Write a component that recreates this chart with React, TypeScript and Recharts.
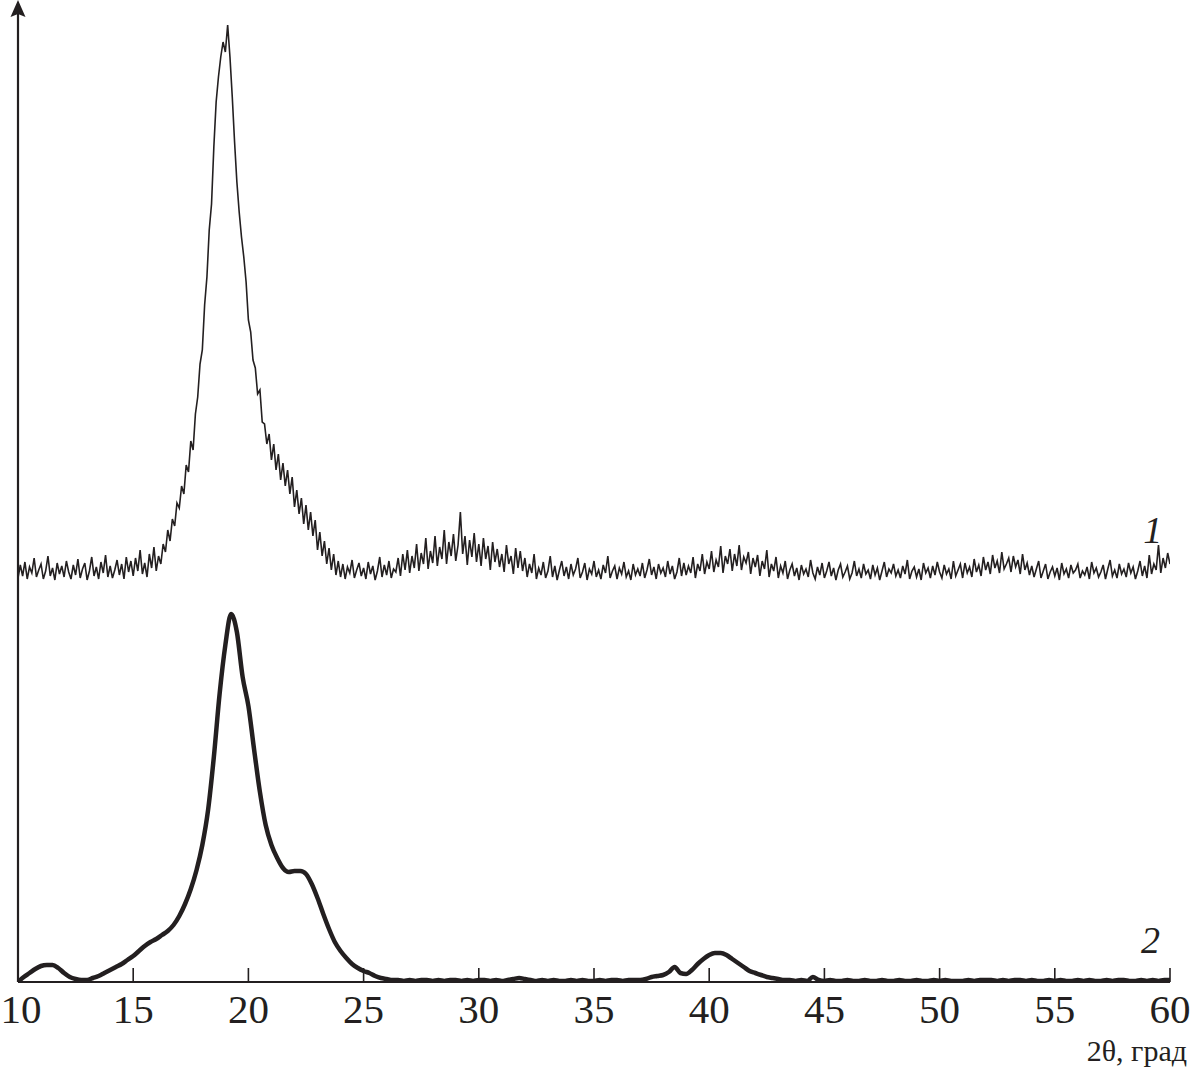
import React from 'react';
import { LineChart, Line, XAxis, YAxis, ReferenceDot, ReferenceLine } from 'recharts';

// diffraction angle grid (deg), one reading per step
const ANGLE_START = 10;
const STEP_1 = 0.1;
const STEP_2 = 0.25;
const xTicks = [10, 15, 20, 25, 30, 35, 40, 45, 50, 55, 60];

// curve 1 (noisy trace, shifted up), read every 0.1 deg
const curve1 = [
  404, 417, 406, 420, 403, 415, 409, 424, 405, 412, // 10
  418, 403, 411, 426, 406, 414, 402, 419, 408, 416, // 11
  405, 421, 410, 403, 417, 407, 423, 404, 413, 419, // 12
  402, 411, 425, 406, 415, 403, 420, 409, 427, 405, // 13
  416, 404, 412, 422, 407, 418, 403, 425, 410, 421, // 14
  406, 424, 411, 432, 408, 419, 405, 428, 414, 435, // 15
  411, 426, 418, 438, 430, 452, 441, 463, 456, 479, // 16
  474, 496, 488, 517, 510, 541, 532, 568, 585, 618, // 17
  632, 677, 705, 752, 778, 835, 880, 905, 925, 940, // 18
  930, 957, 925, 885, 840, 800, 770, 745, 725, 700, // 19
  662, 650, 622, 614, 588, 592, 560, 558, 538, 548, // 20
  522, 538, 512, 528, 502, 519, 496, 512, 488, 505, // 21
  475, 492, 468, 484, 458, 477, 452, 470, 446, 462, // 22
  432, 450, 426, 441, 418, 434, 412, 428, 407, 421, // 23
  405, 418, 403, 415, 409, 422, 404, 412, 419, 406, // 24
  414, 403, 420, 408, 416, 402, 411, 425, 405, 417, // 25
  407, 421, 404, 413, 410, 424, 406, 428, 412, 432, // 26
  409, 426, 414, 438, 411, 429, 418, 444, 413, 431, // 27
  419, 446, 416, 435, 423, 452, 418, 440, 426, 448, // 28
  421, 437, 470, 428, 446, 417, 442, 425, 449, 420, // 29
  438, 416, 444, 423, 436, 412, 440, 420, 433, 415, // 30
  428, 410, 437, 418, 426, 408, 434, 414, 431, 411, // 31
  424, 405, 418, 409, 428, 403, 414, 407, 420, 404, // 32
  411, 426, 405, 416, 402, 412, 421, 406, 415, 403, // 33
  418, 407, 413, 424, 404, 410, 419, 402, 413, 408, // 34
  421, 405, 412, 403, 417, 409, 426, 404, 411, 416, // 35
  403, 414, 408, 420, 405, 411, 402, 418, 407, 413, // 36
  406, 419, 404, 412, 423, 407, 415, 403, 418, 409, // 37
  414, 405, 421, 408, 416, 403, 410, 424, 406, 419, // 38
  407, 416, 409, 425, 404, 418, 411, 428, 408, 420, // 39
  413, 431, 410, 422, 415, 436, 409, 426, 418, 433, // 40
  411, 428, 416, 437, 412, 425, 419, 430, 408, 424, // 41
  415, 427, 406, 421, 413, 432, 405, 418, 411, 425, // 42
  404, 416, 409, 421, 403, 412, 418, 406, 414, 402, // 43
  417, 408, 413, 405, 422, 409, 403, 415, 407, 419, // 44
  404, 411, 420, 406, 414, 402, 412, 418, 405, 410, // 45
  416, 403, 409, 421, 406, 413, 404, 418, 408, 412, // 46
  403, 417, 407, 414, 402, 411, 420, 405, 413, 409, // 47
  418, 406, 412, 404, 416, 408, 422, 403, 411, 415, // 48
  405, 413, 402, 419, 409, 414, 404, 416, 407, 420, // 49
  410, 404, 417, 408, 413, 403, 421, 406, 412, 418, // 50
  404, 419, 409, 415, 405, 423, 410, 417, 406, 425, // 51
  412, 420, 408, 427, 414, 421, 409, 430, 413, 418, // 52
  424, 410, 426, 415, 422, 408, 428, 412, 419, 407, // 53
  416, 405, 413, 421, 404, 411, 418, 403, 410, 415, // 54
  406, 414, 402, 419, 408, 413, 404, 417, 409, 412, // 55
  418, 404, 411, 407, 415, 403, 420, 409, 414, 405, // 56
  410, 417, 403, 413, 422, 406, 412, 404, 418, 408, // 57
  413, 405, 419, 409, 415, 403, 411, 421, 406, 416, // 58
  404, 427, 408, 418, 412, 437, 409, 424, 414, 429, // 59
  418,
];

// curve 2 (smooth trace), read every 0.25 deg
const curve2 = [
  0, 5, 9, 13, // 10
  16, 17, 17, 14,
  9, 5, 3, 2,
  2, 4, 6, 9,
  12, 15, 18, 22,
  26, 31, 36, 40, // 15
  43, 47, 51, 57,
  66, 78, 93, 112,
  137, 172, 225, 288,
  337, 368, 350, 305,
  276, 232, 190, 157, // 20
  137, 124, 114, 110,
  111, 111, 108, 98,
  84, 68, 53, 40,
  31, 24, 18, 14,
  11, 9, 6, 4, // 25
  3, 2, 2, 1,
  2, 1, 2, 2,
  1, 2, 1, 2,
  2, 1, 2, 1,
  2, 2, 1, 2, // 30
  1, 2, 3, 4,
  3, 2, 1, 2,
  1, 2, 1, 1,
  2, 1, 2, 1,
  1, 2, 1, 2, // 35
  2, 1, 2, 2,
  2, 3, 5, 6,
  7, 10, 15, 9,
  8, 12, 18, 23,
  27, 29, 29, 27, // 40
  23, 19, 15, 11,
  9, 7, 5, 4,
  3, 2, 2, 1,
  2, 1, 5, 2,
  1, 2, 1, 1, // 45
  2, 1, 1, 2,
  1, 1, 2, 1,
  1, 2, 1, 1,
  2, 1, 1, 2,
  1, 2, 1, 1, // 50
  1, 2, 1, 2,
  2, 2, 1, 2,
  1, 2, 2, 1,
  2, 1, 1, 2,
  1, 2, 1, 1, // 55
  2, 1, 2, 1,
  1, 2, 1, 2,
  2, 1, 1, 2,
  1, 2, 1, 2,
  2, // 60
];

const series1 = curve1.map((v, i) => ({ x: +(ANGLE_START + i * STEP_1).toFixed(2), y: v }));
const series2 = curve2.map((v, i) => ({ x: +(ANGLE_START + i * STEP_2).toFixed(2), y: v }));

const INK = '#231f20';
const SERIF = '"Liberation Serif", "Times New Roman", serif';

const AngleTick = (props: any) => {
  const { x, y, payload } = props;
  // first label sits against the page edge
  const dx = payload.value === 10 ? 3 : 0;
  return (
    <g>
      <line x1={x} y1={y} x2={x} y2={y - 14} stroke={INK} strokeWidth={1.6} />
      <text x={x + dx} y={y + 41} textAnchor="middle" fontFamily={SERIF} fontSize={41} fill={INK}>
        {payload.value}
      </text>
    </g>
  );
};

const AxisTitle = (props: any) => {
  const { x, y, width } = props.viewBox;
  return (
    <text x={x + width + 17} y={y + 79} textAnchor="end" fontFamily={SERIF} fontSize={30} fill={INK}>
      2θ, град
    </text>
  );
};

const Arrow = (props: any) => {
  const { cx, cy } = props;
  return (
    <polygon
      points={`${cx},${cy - 5} ${cx - 7.5},${cy + 12} ${cx},${cy + 9} ${cx + 7.5},${cy + 12}`}
      fill={INK}
    />
  );
};

const curveLabel = (text: string) => (props: any) => (
  <text x={props.cx} y={props.cy} textAnchor="middle" fontFamily={SERIF} fontStyle="italic" fontSize={38} fill={INK}>
    {text}
  </text>
);

export default function App() {
  return (
    <div style={{ position: 'absolute', left: 0, top: 0, width: 1191, height: 1077, background: '#fff' }}>
      <LineChart width={1191} height={1077} margin={{ top: 5, right: 21, bottom: 0, left: 18 }}>
        <XAxis
          dataKey="x"
          type="number"
          domain={[10, 60]}
          ticks={xTicks}
          height={95}
          tickLine={false}
          tickSize={0}
          tickMargin={0}
          tick={<AngleTick />}
          axisLine={{ stroke: INK, strokeWidth: 2 }}
          label={<AxisTitle />}
          allowDataOverflow
        />
        <YAxis type="number" domain={[0, 977]} width={0} hide allowDataOverflow />
        <ReferenceLine x={10} stroke={INK} strokeWidth={2.2} ifOverflow="visible" />
        <Line
          data={series1}
          dataKey="y"
          type="linear"
          stroke={INK}
          strokeWidth={1.6}
          dot={false}
          isAnimationActive={false}
        />
        <Line
          data={series2}
          dataKey="y"
          type="monotone"
          stroke={INK}
          strokeWidth={4.5}
          strokeLinejoin="round"
          dot={false}
          isAnimationActive={false}
        />
        <ReferenceDot x={10} y={977} r={0} ifOverflow="visible" shape={<Arrow />} />
        <ReferenceDot x={59.25} y={439} r={0} ifOverflow="visible" shape={curveLabel('1')} />
        <ReferenceDot x={59.15} y={29} r={0} ifOverflow="visible" shape={curveLabel('2')} />
      </LineChart>
    </div>
  );
}
